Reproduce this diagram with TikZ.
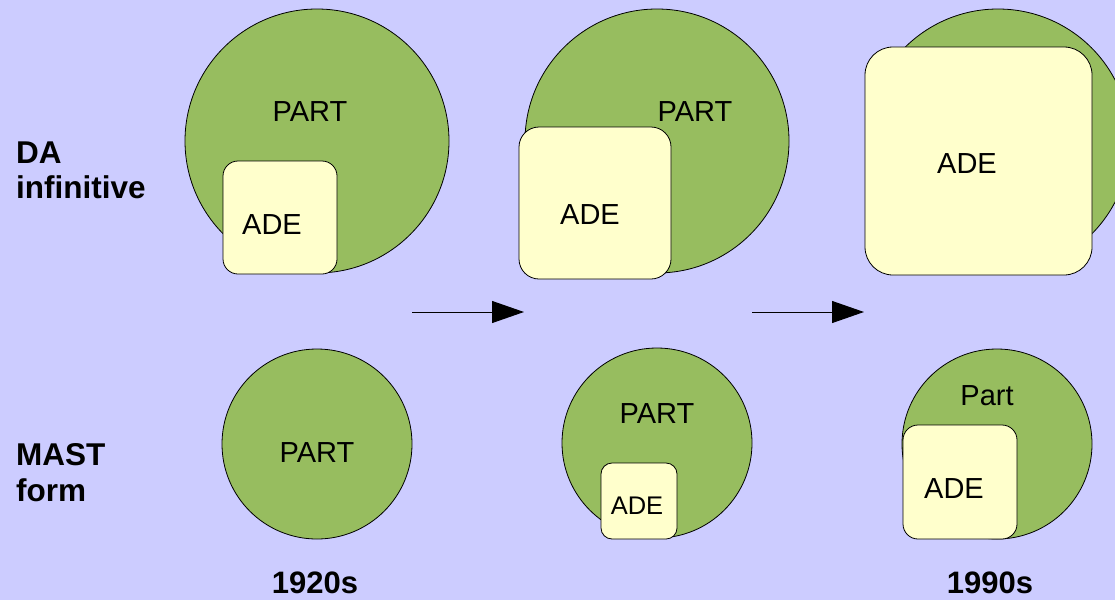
\documentclass[tikz,border=0pt]{standalone}
\usepackage{fontspec}
\setmainfont{Liberation Sans}
\usetikzlibrary{arrows.meta}
\definecolor{bgblue}{RGB}{204,204,255}
\definecolor{partgreen}{RGB}{151,189,95}
\definecolor{adeyellow}{RGB}{255,255,204}
\tikzset{
  partcircle/.style={circle, draw=black, line width=0.8pt, fill=partgreen,
                     inner sep=0pt, minimum size=#1},
  adebox/.style={rectangle, draw=black, line width=0.8pt, fill=adeyellow,
                 inner sep=0pt},
  word/.style={anchor=base, inner sep=0pt, font=\fontsize{29}{34}\selectfont},
  smallword/.style={anchor=base, inner sep=0pt, font=\fontsize{25.5}{30}\selectfont},
  rowlabel/.style={anchor=base west, inner sep=0pt, align=left,
                   font=\fontsize{31.5}{36}\selectfont\bfseries},
  yearlabel/.style={anchor=base, inner sep=0pt,
                    font=\fontsize{31}{36}\selectfont\bfseries},
  stagearrow/.style={line width=1pt, -{Triangle[length=32pt,width=22pt]}}
}
\begin{document}
\begin{tikzpicture}[x=1pt, y=-1pt]
  \useasboundingbox (0,0) rectangle (1115,600);
  \fill[bgblue] (0,0) rectangle (1115,600);
  \clip (0,0) rectangle (1115,600);

  % upper row: DA infinitive
  \node[partcircle=264pt] (c1) at (317,141) {};
  \node[partcircle=264pt] (c2) at (657,141) {};
  \node[partcircle=264pt] (c3) at (998,141) {};
  \node[adebox, minimum width=114pt, minimum height=113pt, rounded corners=15pt] (s1) at (280,217.5) {};
  \node[adebox, minimum width=152pt, minimum height=152pt, rounded corners=20pt] (s2) at (595,203) {};
  \node[adebox, minimum width=227pt, minimum height=228pt, rounded corners=28pt] (s3) at (978.5,161) {};

  \node[word] (p1) at (310,121) {PART};
  \node[word] (a1) at (272,234) {ADE};
  \node[word] (p2) at (695,121) {PART};
  \node[word] (a2) at (590,224) {ADE};
  \node[word] (a3) at (967,173) {ADE};

  % lower row: MAST form
  \node[partcircle=190pt] (c4) at (317,444) {};
  \node[partcircle=190pt] (c5) at (657,443) {};
  \node[partcircle=190pt] (c6) at (997,444) {};
  \node[adebox, minimum width=76pt, minimum height=76pt, rounded corners=11pt] (s5) at (639,501) {};
  \node[adebox, minimum width=114pt, minimum height=114pt, rounded corners=15pt] (s6) at (960,482) {};

  \node[word] (p4) at (317,462) {PART};
  \node[word] (p5) at (657,423) {PART};
  \node[smallword] (a5) at (637,514) {ADE};
  \node[word] (p6) at (987,405) {Part};
  \node[word] (a6) at (954,498) {ADE};

  % arrows between the stages
  \coordinate (r1) at (412,312);
  \coordinate (r1e) at (524,312);
  \coordinate (r2) at (752,312);
  \coordinate (r2e) at (864,312);
  \draw[stagearrow] (r1) -- (r1e);
  \draw[stagearrow] (r2) -- (r2e);

  % row and period labels
  \node[rowlabel] (da) at (16,163) {DA};
  \node[rowlabel] (inf) at (16,198) {infinitive};
  \node[rowlabel] (mast) at (16,465) {MAST};
  \node[rowlabel] (form) at (16,501) {form};
  \node[yearlabel] (y1) at (315,593) {1920s};
  \node[yearlabel] (y2) at (990,593) {1990s};
\end{tikzpicture}
\end{document}
